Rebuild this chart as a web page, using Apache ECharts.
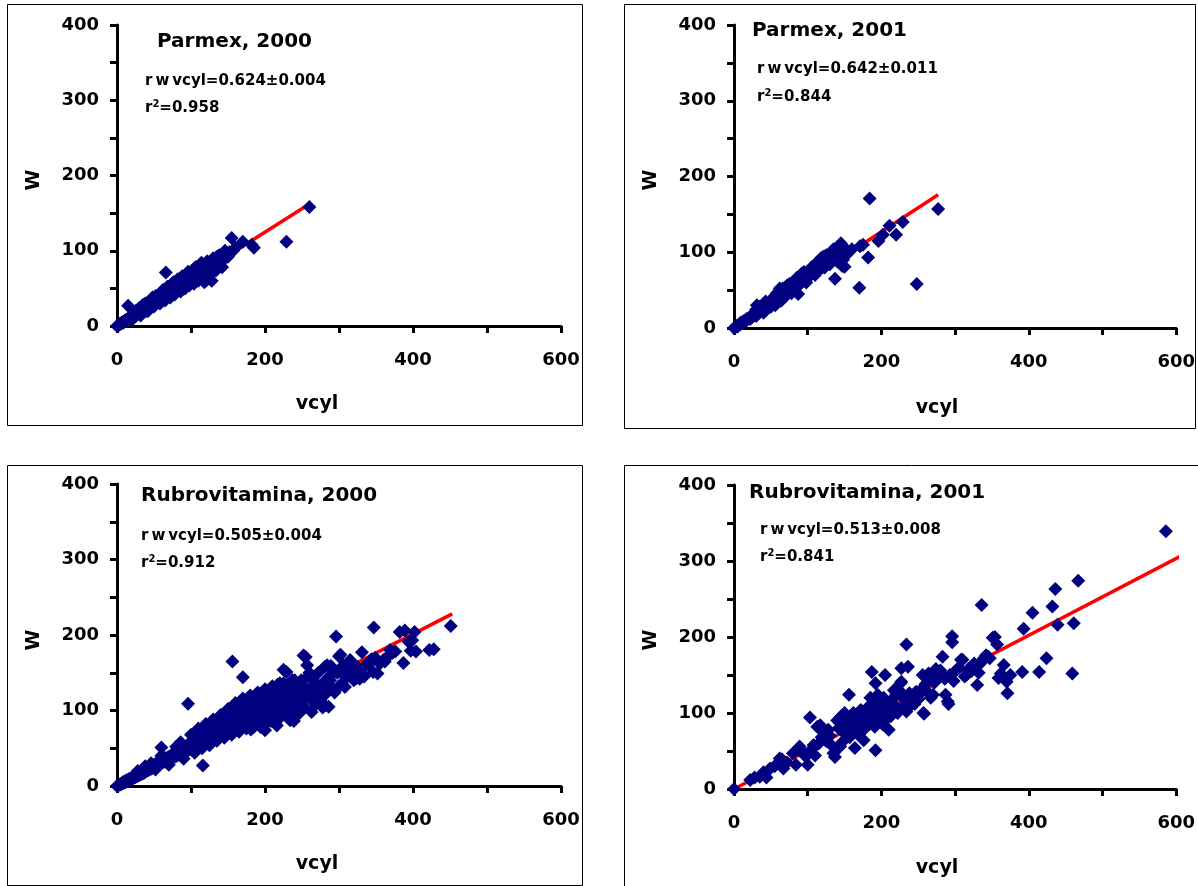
<!DOCTYPE html>
<html><head><meta charset="utf-8">
<script src="https://cdn.jsdelivr.net/npm/echarts@6/dist/echarts.min.js"></script>
<style>html,body{margin:0;padding:0;background:#fff}#c{width:1198px;height:886px}</style>
</head><body><div id="c"></div>
<script>
const xTickLabels = [0, 200, 400, 600];
const yTickLabels = [0, 100, 200, 300, 400];
const titles = ['Parmex, 2000', 'Parmex, 2001', 'Rubrovitamina, 2000', 'Rubrovitamina, 2001'];
const slopeTexts = ['r\u2009w\u2009vcyl=0.624±0.004', 'r\u2009w\u2009vcyl=0.642±0.011', 'r\u2009w\u2009vcyl=0.505±0.004', 'r\u2009w\u2009vcyl=0.513±0.008'];
const r2Texts = ['r²=0.958', 'r²=0.844', 'r²=0.912', 'r²=0.841'];
const xName = 'vcyl';
const yName = 'W';

const parmex2000 = [[0,0],[2,1],[3,2],[4,3],[5,3],[6,4],[7,5],[8,4],[9,6],[10,6],[11,7],[12,8],[13,7],[14,9],[15,10],[15,27],[16,9],[17,11],[18,12],[19,10],[20,13],[20,8],[21,12],[22,14],[23,15],[24,13],[25,16],[25,20],[26,17],[27,15],[28,18],[29,19],[30,17],[30,24],[31,20],[32,21],[32,14],[33,19],[34,22],[35,23],[35,28],[36,20],[37,24],[38,25],[38,30],[39,22],[40,26],[40,20],[41,24],[42,27],[42,20],[43,25],[44,29],[45,26],[45,34],[46,30],[47,28],[48,31],[48,38],[49,27],[50,32],[50,26],[51,34],[52,30],[52,40],[53,35],[54,33],[55,36],[55,40],[56,32],[57,38],[58,35],[58,30],[59,37],[60,40],[60,34],[61,36],[62,39],[62,48],[63,41],[64,38],[65,42],[65,34],[66,71],[66,40],[67,44],[68,41],[68,52],[69,45],[70,43],[70,50],[71,46],[72,44],[72,38],[73,48],[74,45],[75,47],[75,55],[76,50],[76,58],[77,46],[78,49],[78,42],[79,52],[80,48],[80,58],[81,51],[82,54],[82,62],[83,50],[84,53],[85,56],[85,62],[86,52],[86,46],[87,55],[88,58],[88,66],[89,54],[90,57],[90,50],[91,60],[92,55],[92,50],[93,59],[94,62],[95,58],[95,68],[96,61],[96,72],[97,64],[98,60],[98,54],[99,63],[100,66],[100,58],[101,62],[102,65],[102,74],[104,68],[104,56],[105,61],[106,70],[106,78],[108,66],[108,78],[110,72],[110,60],[112,68],[112,80],[114,74],[114,84],[115,62],[116,82],[117,76],[118,66],[118,58],[120,60],[120,73],[122,78],[122,86],[124,75],[125,70],[126,80],[126,68],[128,82],[128,60],[130,78],[130,90],[132,85],[134,83],[134,74],[135,92],[136,88],[138,86],[138,94],[140,90],[140,80],[142,92],[142,78],[144,88],[145,97],[146,94],[146,100],[148,96],[150,92],[152,98],[155,117],[157,100],[160,104],[170,112],[182,108],[185,104],[229,112],[260,158]];

const parmex2001 = [[0,0],[2,1],[4,3],[5,2],[6,4],[8,5],[9,7],[10,6],[12,8],[13,9],[14,8],[16,10],[17,12],[18,11],[20,13],[21,14],[22,12],[24,16],[25,15],[26,18],[28,17],[29,20],[30,16],[30,24],[31,30],[32,21],[33,19],[34,23],[35,28],[36,22],[37,26],[38,24],[40,27],[40,20],[40,32],[41,25],[42,29],[43,35],[44,28],[45,31],[45,25],[46,30],[48,33],[49,31],[50,35],[50,28],[52,34],[53,37],[55,36],[55,42],[56,30],[57,40],[58,38],[58,46],[60,42],[60,36],[61,39],[62,52],[63,44],[64,41],[64,36],[65,46],[66,43],[66,52],[68,48],[69,45],[70,50],[70,42],[72,47],[72,56],[73,52],[75,50],[75,58],[76,55],[78,54],[78,46],[80,57],[80,50],[81,52],[82,60],[87,45],[84,62],[85,66],[86,58],[88,64],[89,60],[90,66],[90,58],[92,63],[92,72],[94,70],[95,65],[95,74],[96,72],[98,68],[98,60],[100,74],[100,66],[101,70],[103,76],[104,70],[105,72],[105,80],[106,78],[108,75],[110,80],[110,70],[111,74],[112,86],[113,83],[115,79],[115,88],[117,86],[118,80],[118,92],[120,88],[120,80],[121,94],[122,84],[123,80],[124,90],[125,96],[126,92],[127,86],[128,96],[130,90],[130,84],[132,98],[133,88],[137,65],[134,93],[135,104],[136,100],[138,95],[139,102],[140,88],[140,96],[143,86],[145,112],[145,100],[142,102],[144,96],[147,82],[148,90],[150,81],[150,100],[152,104],[152,96],[160,104],[170,53],[171,108],[175,110],[182,93],[184,171],[196,115],[202,123],[211,135],[220,123],[229,140],[248,58],[277,157]];

const rubro2000 = [[0,0],[2,1],[3,2],[5,2],[6,3],[7,4],[8,5],[9,4],[10,6],[11,5],[12,7],[13,6],[14,8],[15,7],[16,9],[17,8],[18,10],[19,9],[20,11],[21,10],[22,12],[23,11],[24,13],[25,12],[26,14],[27,13],[28,15],[28,20],[29,14],[30,16],[31,15],[32,17],[33,16],[34,18],[35,22],[36,17],[37,24],[38,19],[38,26],[39,21],[40,20],[41,23],[42,21],[43,25],[44,22],[45,24],[46,23],[46,30],[47,26],[48,24],[49,27],[50,25],[51,28],[52,26],[52,22],[53,30],[54,27],[55,29],[56,31],[57,28],[58,33],[59,30],[60,51],[60,32],[60,40],[61,34],[62,31],[63,35],[64,33],[65,37],[66,32],[67,36],[68,34],[69,38],[70,35],[70,28],[71,39],[72,36],[73,40],[74,37],[75,42],[76,38],[77,41],[78,44],[79,39],[80,43],[80,52],[81,40],[82,46],[83,42],[84,45],[85,41],[86,48],[86,58],[87,44],[88,47],[89,43],[90,50],[90,36],[91,46],[92,52],[93,45],[94,49],[95,54],[96,109],[96,47],[97,56],[98,50],[99,53],[100,58],[100,68],[101,48],[102,55],[103,60],[104,52],[105,62],[105,44],[106,57],[107,50],[108,64],[109,59],[110,66],[110,76],[111,55],[112,62],[113,68],[114,58],[115,70],[115,50],[116,27],[116,64],[117,56],[118,72],[119,66],[120,60],[120,82],[121,74],[122,68],[123,62],[124,76],[125,70],[125,54],[126,58],[127,78],[128,72],[129,65],[130,80],[130,88],[131,74],[132,62],[133,82],[134,76],[135,68],[135,60],[136,84],[137,78],[138,64],[139,86],[140,80],[140,94],[141,72],[142,88],[143,82],[144,70],[145,90],[145,64],[146,84],[147,76],[148,92],[149,86],[150,74],[150,102],[151,95],[152,88],[153,80],[154,98],[155,90],[155,68],[156,165],[156,78],[157,100],[158,92],[159,84],[160,102],[160,110],[161,95],[162,86],[163,104],[164,97],[165,82],[165,72],[166,106],[167,99],[168,90],[169,108],[170,144],[170,101],[170,116],[171,88],[172,110],[173,103],[174,94],[175,112],[175,76],[176,105],[177,85],[178,114],[179,96],[180,107],[180,120],[181,75],[182,116],[183,100],[184,92],[185,118],[185,78],[186,108],[187,98],[188,120],[189,104],[190,88],[190,124],[191,112],[192,122],[193,100],[194,78],[195,115],[195,84],[196,124],[197,106],[198,94],[199,118],[200,110],[200,74],[200,128],[202,126],[203,102],[204,114],[205,86],[206,96],[207,122],[208,86],[209,130],[210,110],[210,132],[212,118],[213,98],[215,124],[215,88],[216,80],[217,134],[218,112],[220,104],[220,136],[221,128],[222,92],[224,118],[225,136],[225,154],[226,108],[228,98],[229,151],[230,124],[230,92],[231,114],[233,130],[234,100],[234,87],[236,120],[237,140],[238,131],[238,110],[239,86],[240,128],[240,140],[242,104],[243,135],[245,118],[246,96],[248,126],[249,140],[250,112],[250,105],[252,132],[252,173],[253,104],[255,171],[256,127],[256,122],[257,160],[258,145],[260,116],[260,150],[262,130],[263,98],[265,118],[265,140],[266,122],[268,108],[270,134],[270,110],[272,150],[274,118],[276,128],[278,104],[280,138],[281,158],[281,107],[282,122],[284,160],[286,105],[287,145],[288,140],[289,159],[290,130],[292,149],[294,124],[296,198],[298,150],[299,131],[300,172],[302,174],[304,136],[306,160],[308,131],[310,144],[312,148],[315,167],[318,156],[320,140],[324,143],[325,158],[326,154],[328,142],[331,177],[332,146],[334,145],[336,160],[340,162],[344,168],[346,151],[347,210],[349,170],[352,149],[355,162],[360,167],[362,165],[365,171],[369,180],[372,176],[376,178],[382,204],[387,163],[389,206],[394,191],[397,179],[399,193],[402,204],[404,178],[422,180],[428,181],[451,212]];

const rubro2001 = [[0,0],[22,12],[28,15],[35,16],[40,22],[44,15],[49,27],[55,30],[62,40],[65,39],[67,27],[72,35],[80,47],[84,32],[89,56],[92,49],[95,45],[100,32],[101,46],[103,94],[105,52],[108,58],[110,44],[113,82],[115,60],[117,84],[119,68],[122,74],[125,63],[128,78],[130,70],[133,57],[135,47],[137,42],[140,90],[142,80],[144,56],[145,95],[147,62],[148,86],[150,100],[151,72],[153,88],[155,78],[156,124],[157,68],[158,95],[160,82],[162,100],[164,54],[165,90],[166,76],[168,72],[170,96],[171,84],[172,104],[174,88],[176,64],[177,98],[178,80],[180,92],[182,108],[184,86],[185,120],[186,100],[187,154],[188,94],[190,112],[191,82],[192,139],[192,51],[194,106],[195,124],[196,90],[198,116],[200,98],[201,108],[202,85],[203,120],[205,150],[205,102],[207,92],[208,112],[210,78],[212,104],[213,96],[215,118],[217,130],[218,110],[220,124],[222,100],[224,130],[226,139],[227,159],[227,141],[229,120],[230,108],[232,118],[234,102],[234,190],[236,161],[236,107],[238,126],[240,114],[242,120],[245,112],[247,128],[250,118],[252,125],[255,132],[256,150],[257,100],[258,99],[260,138],[262,128],[264,152],[265,145],[267,120],[270,124],[272,140],[274,158],[276,148],[280,156],[283,174],[286,145],[287,124],[290,115],[291,112],[293,150],[296,201],[296,193],[298,142],[300,155],[305,160],[308,170],[310,170],[313,148],[315,150],[318,158],[322,155],[326,165],[330,137],[332,153],[334,165],[336,242],[339,172],[342,176],[345,174],[347,172],[351,199],[354,200],[357,190],[359,146],[362,152],[366,163],[370,141],[371,126],[375,150],[391,154],[393,211],[405,232],[414,154],[424,172],[432,240],[436,263],[439,216],[459,152],[461,218],[467,274],[586,339]];

const fitParmex2000 = [[0,0],[260,162]];
const fitParmex2001 = [[0,0],[277,176]];
const fitRubro2000 = [[0,0],[453,228]];
const fitRubro2001 = [[0,0],[625,316]];

const scatterSets = [parmex2000, parmex2001, rubro2000, rubro2001];
const fitSets = [fitParmex2000, fitParmex2001, fitRubro2000, fitRubro2001];

// layout (pixels)
const grids = [
  {left:117, top:25, width:444, height:301},
  {left:734, top:25, width:443, height:303},
  {left:117, top:484, width:444, height:302},
  {left:734, top:485, width:443, height:304}
];
const frames = [
  {x:7, y:4, width:575, height:421},
  {x:624, y:4, width:571, height:424},
  {x:7, y:465, width:575, height:420},
  {x:624, y:465, width:590, height:440}
];
const titlePos = [[157,42],[752,31],[141,496],[749,493]];
const statPos = [[145,81,108],[757,69,97],[141,536,563],[760,530,557]];
const wPos = [[34,180],[651,180],[34,640],[651,640]];
const vPos = [[317,404],[937,408],[317,864],[937,868]];

const FF = 'DejaVu Sans';
const chart = echarts.init(document.getElementById('c'), null, {renderer:'canvas'});

const xAxes = [], yAxes = [], series = [], graphic = [];
grids.forEach((g, i) => {
  xAxes.push({
    gridIndex:i, type:'value', min:0, max:600, interval:100,
    axisLine:{show:true, onZero:false, lineStyle:{color:'#000', width:3}},
    axisTick:{show:true, length:7, lineStyle:{color:'#000', width:3}},
    axisLabel:{margin:25, color:'#000', fontFamily:FF, fontWeight:'bold', fontSize:18,
      formatter: v => xTickLabels.includes(v) ? String(v) : ''},
    splitLine:{show:false}
  });
  yAxes.push({
    gridIndex:i, type:'value', min:0, max:400, interval:50,
    axisLine:{show:true, onZero:false, lineStyle:{color:'#000', width:3}},
    axisTick:{show:true, length:7, lineStyle:{color:'#000', width:3}},
    axisLabel:{margin:18, color:'#000', fontFamily:FF, fontWeight:'bold', fontSize:18,
      formatter: v => yTickLabels.includes(v) ? String(v) : ''},
    splitLine:{show:false}
  });
  series.push({
    type:'line', xAxisIndex:i, yAxisIndex:i, data:fitSets[i], showSymbol:false, symbol:'none',
    clip:false, silent:true, z:1, lineStyle:{color:'#ff0000', width:3.5}
  });
  series.push({
    type:'scatter', xAxisIndex:i, yAxisIndex:i, data:scatterSets[i], symbol:'diamond',
    symbolSize:14, z:2, itemStyle:{color:'#000080', opacity:1}
  });
  const f = frames[i];
  graphic.push({type:'rect', shape:{x:f.x+0.5, y:f.y+0.5, width:f.width, height:f.height},
    style:{fill:null, stroke:'#000', lineWidth:1}, silent:true, z:-1});
  graphic.push({type:'text', x:titlePos[i][0], y:titlePos[i][1],
    style:{text:titles[i], fill:'#000', fontFamily:FF, fontWeight:'bold', fontSize:20, align:'left', verticalAlign:'middle'}});
  graphic.push({type:'text', x:statPos[i][0], y:statPos[i][1],
    style:{text:slopeTexts[i], fill:'#000', fontFamily:FF, fontWeight:'bold', fontSize:15, align:'left', verticalAlign:'middle'}});
  graphic.push({type:'text', x:statPos[i][0], y:statPos[i][2],
    style:{text:r2Texts[i].replace('²', '{s|2}'), fill:'#000', fontFamily:FF, fontWeight:'bold', fontSize:15,
      align:'left', verticalAlign:'middle',
      rich:{s:{fontFamily:FF, fontWeight:'bold', fontSize:10, fill:'#000', verticalAlign:'top', lineHeight:18}}}});
  graphic.push({type:'text', x:wPos[i][0], y:wPos[i][1], rotation:Math.PI/2,
    style:{text:yName, fill:'#000', fontFamily:FF, fontWeight:'bold', fontSize:19, align:'center', verticalAlign:'middle'}});
  graphic.push({type:'text', x:vPos[i][0], y:vPos[i][1],
    style:{text:xName, fill:'#000', fontFamily:FF, fontWeight:'bold', fontSize:19, align:'center', verticalAlign:'middle'}});
});

chart.setOption({
  animation:false,
  backgroundColor:'#fff',
  grid: grids.map(g => Object.assign({containLabel:false}, g)),
  xAxis: xAxes,
  yAxis: yAxes,
  series: series,
  graphic: graphic
});
</script>
</body></html>
